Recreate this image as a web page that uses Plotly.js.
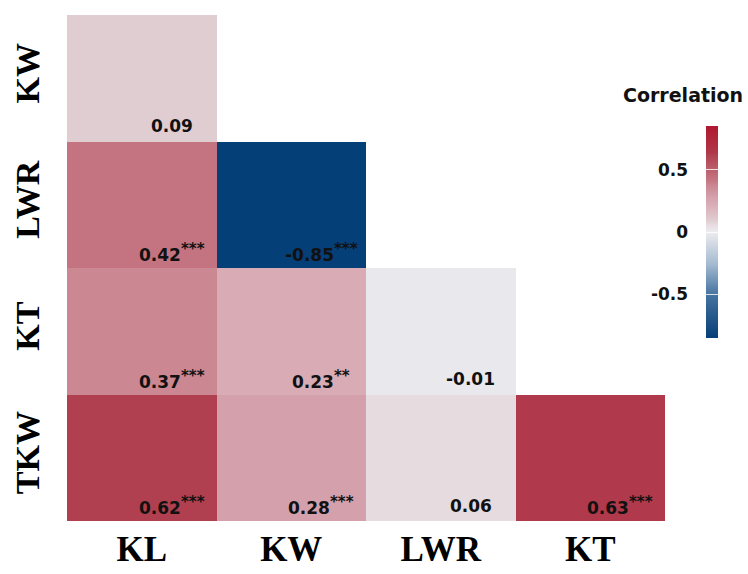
<!DOCTYPE html>
<html>
<head>
<meta charset="utf-8">
<script src="https://cdn.plot.ly/plotly-3.0.1.min.js"></script>
<style>html,body{margin:0;padding:0;background:#fff;}#chart{width:748px;height:574px;}</style>
</head>
<body>
<div id="chart"></div>
<script>
// Categories
const xCats = ['KL', 'KW', 'LWR', 'KT'];
const yCats = ['KW', 'LWR', 'KT', 'TKW'];
// Correlation values (lower triangle; null = empty)
const rowKW  = [0.09, null, null, null];
const rowLWR = [0.42, -0.85, null, null];
const rowKT  = [0.37, 0.23, -0.01, null];
const rowTKW = [0.62, 0.28, 0.06, 0.63];
// Significance stars
const starKW  = ['', '', '', ''];
const starLWR = ['***', '***', '', ''];
const starKT  = ['***', '**', '', ''];
const starTKW = ['***', '***', '', '***'];
// Colorbar ticks
const cbTicks = [-0.5, 0, 0.5];
const cbTickText = ['-0.5', '0', '0.5'];

const z = [rowKW, rowLWR, rowKT, rowTKW];
const stars = [starKW, starLWR, starKT, starTKW];

const zmin = -0.85, zmax = 0.85;
const colorscale = [
  [0.0, '#053F77'],
  [0.206, '#4674A1'],
  [0.353, '#A7BCD2'],
  [0.5, '#ECEBEE'],
  [0.535, '#E6DBDF'],
  [0.553, '#E0CDD2'],
  [0.635, '#D9ABB5'],
  [0.665, '#D4A0AB'],
  [0.718, '#CB8792'],
  [0.747, '#C47480'],
  [0.865, '#B0404F'],
  [0.871, '#B0384B'],
  [1.0, '#B0182F']
];

const pad = '&nbsp;&nbsp;&nbsp;';

const trace = {
  type: 'heatmap',
  x: xCats,
  y: yCats,
  z: z,
  zmin: zmin,
  zmax: zmax,
  colorscale: colorscale,
  hoverongaps: false,
  xgap: 0, ygap: 0,
  colorbar: {
    x: 1.0686, xanchor: 'left', xref: 'paper',
    y: 0.571, yanchor: 'middle',
    xpad: 0, ypad: 0,
    thickness: 12, thicknessmode: 'pixels',
    len: 212, lenmode: 'pixels',
    outlinewidth: 0,
    tickmode: 'array',
    tickvals: cbTicks,
    ticktext: cbTickText.map(t => t + pad),
    ticks: 'inside',
    ticklen: 12,
    tickcolor: 'rgba(255,255,255,0.8)',
    tickwidth: 1,
    ticklabelposition: 'inside',
    tickfont: {family: 'DejaVu Sans', size: 17, weight: 'bold', color: '#111'}
  }
};

const annotations = [];
for (let r = 0; r < yCats.length; r++) {
  for (let c = 0; c < xCats.length; c++) {
    const v = z[r][c];
    if (v === null) continue;
    const s = stars[r][c];
    annotations.push({
      x: c + 0.2, y: r + 0.38,
      xref: 'x', yref: 'y',
      text: v.toFixed(2) + (s ? '<sup><span style="font-size:15px">' + s + '</span></sup>' : ''),
      showarrow: false,
      xanchor: 'center', yanchor: 'middle',
      font: {family: 'DejaVu Sans', size: 17, weight: 'bold', color: '#111'}
    });
  }
}
annotations.push({
  x: 1.03, y: 0.842, xref: 'paper', yref: 'paper',
  text: 'Correlation', showarrow: false,
  xanchor: 'center', yanchor: 'middle',
  font: {family: 'DejaVu Sans', size: 19, weight: 'bold', color: '#111'}
});

const layout = {
  width: 748, height: 574,
  margin: {l: 67, r: 83, t: 15, b: 53},
  paper_bgcolor: '#fff', plot_bgcolor: '#fff',
  xaxis: {
    type: 'category',
    showgrid: false, zeroline: false, showline: false, ticks: '',
    tickfont: {family: 'Liberation Serif', size: 35, weight: 'bold', color: '#000'},
    ticklabelstandoff: 4
  },
  yaxis: {
    type: 'category',
    autorange: 'reversed',
    showgrid: false, zeroline: false, showline: false, ticks: '',
    tickangle: -90,
    tickfont: {family: 'Liberation Serif', size: 34, weight: 'bold', color: '#000'},
    ticklabelstandoff: 20
  },
  annotations: annotations,
  showlegend: false
};

Plotly.newPlot('chart', [trace], layout, {displayModeBar: false, staticPlot: true});
</script>
</body>
</html>
